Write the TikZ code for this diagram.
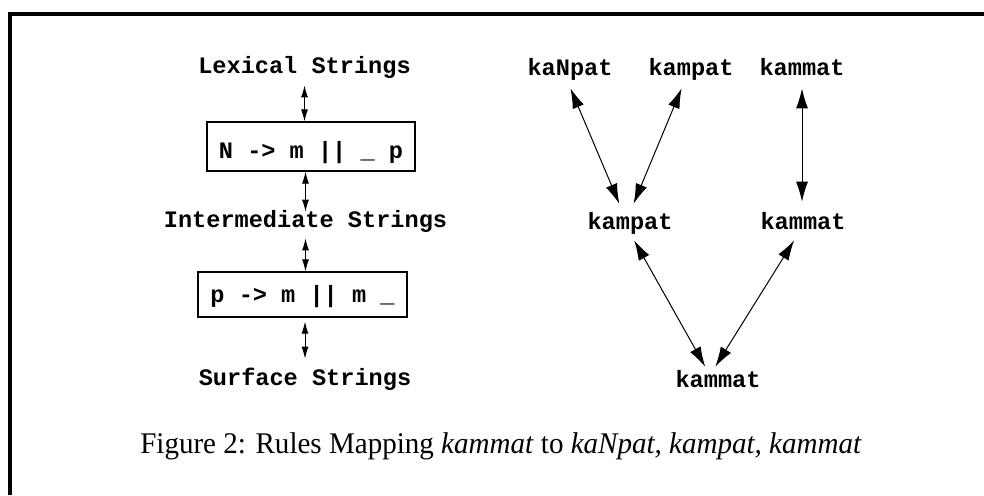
\documentclass[tikz,border=0pt]{standalone}
\usepackage{fontspec}
\setmainfont{Liberation Serif}
\newfontfamily\capfont[FakeStretch=0.968]{Liberation Serif}
\newfontfamily\courfont{Liberation Mono}
\usetikzlibrary{arrows.meta}
\begin{document}
\begin{tikzpicture}[x=0.5pt,y=-0.5pt,
  lbl/.style={inner sep=0pt, text height=0.57em, text depth=0pt, anchor=base,
    font=\courfont\bfseries\fontsize{11.8pt}{14pt}\selectfont},
  rulebox/.style={draw, line width=0.6pt, inner sep=0pt, text depth=0pt,
    font=\courfont\bfseries\fontsize{11.8pt}{14pt}\selectfont},
  sarrow/.style={line width=0.5pt, {Latex[length=6pt,width=3.5pt]}-{Latex[length=6pt,width=3.5pt]}},
  barrow/.style={line width=0.5pt, {Latex[length=10pt,width=6pt]}-{Latex[length=10pt,width=6pt]}},
  frame/.style={line width=2pt, line join=miter}
]
\useasboundingbox (0,0) rectangle (984,495);
\draw[frame] (10,495) -- (10,14) -- (984,14);

% left column
\node[lbl] (lex) at (304.5,73) {Lexical Strings};
\node[rulebox, minimum width=104pt, minimum height=24.5pt, text height=11.5pt] (box1) at (311,146.5) {N -> m || \_ p};
\node[lbl] (inter) at (305.5,227) {Intermediate Strings};
\node[rulebox, minimum width=104.5pt, minimum height=22.5pt, text height=7.5pt] (box2) at (302.5,294.5) {p -> m || m \_};
\node[lbl] (surf) at (305,385) {Surface Strings};

\draw[sarrow, shorten <=6pt] (lex.south) -- (lex.south |- box1.north);
\draw[sarrow, shorten >=1.75pt] (inter.north |- box1.south) -- (inter.north);
\draw[sarrow, shorten <=5.5pt] (inter.south) -- (inter.south |- box2.north);
\draw[sarrow, shorten <=2pt, shorten >=7.25pt] (surf.north |- box2.south) -- (surf.north);

% right graph
\node[lbl] (kaNpat) at (570,75) {kaNpat};
\node[lbl] (kampatT) at (691,75) {kampat};
\node[lbl] (kammatT) at (802,75) {kammat};
\node[lbl] (kampatM) at (630,229) {kampat};
\node[lbl] (kammatM) at (803,229) {kammat};
\node[lbl] (kammatB) at (718,387) {kammat};

\draw[barrow, shorten <=7pt, shorten >=7.3pt] ([xshift=-2.5pt]kaNpat.south) -- ([xshift=-2.5pt]kampatM.north);
\draw[barrow, shorten <=7pt, shorten >=7.3pt] ([xshift=-2pt]kampatT.south) -- ([xshift=-1pt]kampatM.north);
\draw[barrow, shorten <=6.5pt, shorten >=7.75pt] (kammatT.south) -- (kammatT.south |- kammatM.north);
\draw[barrow, shorten <=6.3pt, shorten >=4.9pt] ([xshift=-1pt]kampatM.south) -- ([xshift=-4pt]kammatB.north);
\draw[barrow, shorten <=6.5pt, shorten >=5pt] ([xshift=-1pt]kammatM.south) -- ([xshift=-4pt]kammatB.north);

% caption
\node[inner sep=0pt, anchor=base, font=\capfont\fontsize{15pt}{18pt}\selectfont] (cap) at (501,453)
  {Figure 2: Rules Mapping \textit{kammat} to \textit{kaNpat, kampat, kammat}};
\end{tikzpicture}
\end{document}
